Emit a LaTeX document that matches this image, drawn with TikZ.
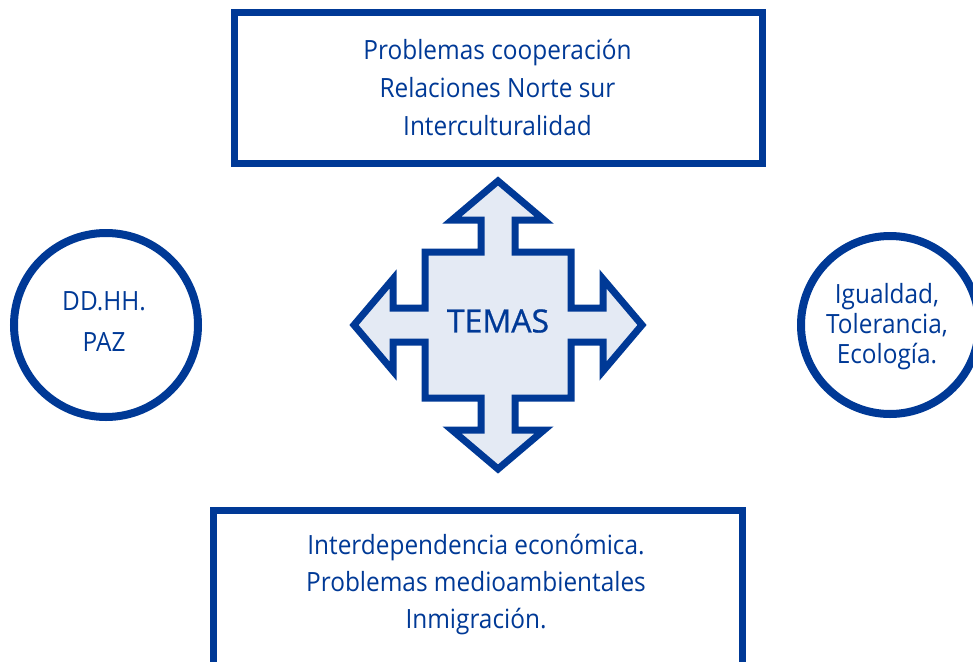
\documentclass[tikz,border=0pt]{standalone}
\usepackage{fontspec}
\setmainfont[FakeStretch=0.92]{Open Sans}
\newfontfamily\temasfont[FakeBold=0.8]{Open Sans}
\definecolor{dblue}{RGB}{0,57,150}
\definecolor{lfill}{RGB}{228,234,244}
\begin{document}
\begin{tikzpicture}[x=1pt,y=-1pt,
  txt/.style={text=dblue, align=center, font=\fontsize{26.5}{38}\selectfont},
  boxnode/.style={draw=dblue, line width=7pt, inner sep=0pt},
  ring/.style={circle, draw=dblue, line width=8pt, inner sep=0pt},
  cross/.style={draw=dblue, fill=lfill, line width=7pt, line join=miter}]
\useasboundingbox (0,0) rectangle (973,661);
\clip (0,0) rectangle (973,661);
% central four-way arrow
\begin{scope}[shift={(498,325)}]
\draw[cross] (0,-144) -- (46,-105) -- (17,-105) -- (17,-73) -- (73,-73) -- (73,-17)
  -- (105,-17) -- (105,-46) -- (144,0) -- (105,46) -- (105,17) -- (73,17) -- (73,73)
  -- (17,73) -- (17,105) -- (46,105) -- (0,144) -- (-46,105) -- (-17,105) -- (-17,73)
  -- (-73,73) -- (-73,17) -- (-105,17) -- (-105,46) -- (-144,0) -- (-105,-46)
  -- (-105,-17) -- (-73,-17) -- (-73,-73) -- (-17,-73) -- (-17,-105) -- (-46,-105) -- cycle;
\end{scope}
\node[text=dblue, font=\temasfont\fontsize{32}{36}\selectfont] (temas) at (498,321) {TEMAS};
% top box
\node[boxnode, minimum width=528pt, minimum height=151pt] (topbox) at (498.5,88) {};
\node[txt] (toptext) at (497.5,87) {Problemas cooperación\\Relaciones Norte sur\\Interculturalidad};
% bottom box
\node[boxnode, minimum width=529pt, minimum height=170pt] (botbox) at (478,595.5) {};
\node[txt, font=\fontsize{26.5}{37}\selectfont] (bottext) at (476,585) {Interdependencia económica.\\Problemas medioambientales\\Inmigración.};
% circles
\node[ring, minimum size=184pt] (left) at (106,325) {};
\node[txt, font=\fontsize{26.5}{41}\selectfont] (lefttext) at (104,322) {DD.HH.\\PAZ};
\node[ring, minimum size=178pt] (right) at (890,325) {};
\node[txt, font=\fontsize{26.5}{30}\selectfont] (righttext) at (887,327) {Igualdad,\\Tolerancia,\\Ecología.};
\end{tikzpicture}
\end{document}
